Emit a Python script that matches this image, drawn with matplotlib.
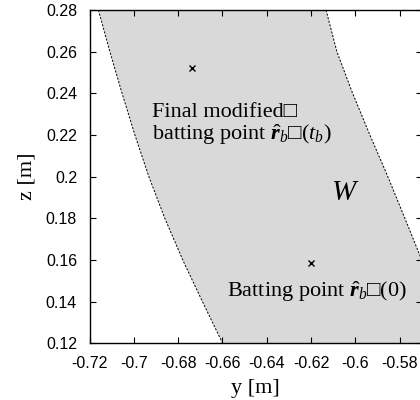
import matplotlib
matplotlib.use("Agg")
import matplotlib.pyplot as plt
import numpy as np

# boundary of the workspace W
z_levels = [0.28, 0.26, 0.24, 0.22, 0.20, 0.18, 0.16, 0.14, 0.12]
y_left = [-0.7160, -0.7108, -0.7053, -0.6995, -0.6932, -0.6860, -0.6779, -0.6690, -0.6599]
y_right = [-0.6132, -0.6083, -0.6012, -0.5934, -0.5853, -0.5776, -0.5700, -0.5620, -0.5540]

# batting points
pts_y = [-0.6739, -0.6200]
pts_z = [0.2522, 0.1584]

xticks = [-0.72, -0.7, -0.68, -0.66, -0.64, -0.62, -0.6, -0.58]
xtick_labels = ["-0.72", "-0.7", "-0.68", "-0.66", "-0.64", "-0.62", "-0.6", "-0.58"]
yticks = [0.12, 0.14, 0.16, 0.18, 0.2, 0.22, 0.24, 0.26, 0.28]
ytick_labels = ["0.12", "0.14", "0.16", "0.18", "0.2", "0.22", "0.24", "0.26", "0.28"]

plt.rcParams['mathtext.fontset'] = 'custom'
plt.rcParams['mathtext.rm'] = 'Liberation Serif'
plt.rcParams['mathtext.it'] = 'Liberation Serif:italic'
plt.rcParams['mathtext.bf'] = 'Liberation Serif:bold:italic'

serif = ['Liberation Serif', 'DejaVu Serif']
sans = ['Liberation Sans', 'DejaVu Sans']

fig = plt.figure(figsize=(4.2, 4.0), dpi=100)
ax = fig.add_axes([0.2131, 0.1417, 0.791, 0.8333])

dash = (0, (2.2, 1.6))
poly_y = np.concatenate([y_left, y_right[::-1]])
poly_z = np.concatenate([z_levels, z_levels[::-1]])
ax.fill(poly_y, poly_z, facecolor='#d9d9d9', edgecolor='none', zorder=1)
ax.plot(y_left, z_levels, color='black', lw=0.7, ls=dash, zorder=2)
ax.plot(y_right, z_levels, color='black', lw=0.7, ls=dash, zorder=2)
ax.plot([y_left[0], y_right[0]], [z_levels[0], z_levels[0]], color='black', lw=0.7, ls=dash, zorder=2)
ax.plot([y_left[-1], y_right[-1]], [z_levels[-1], z_levels[-1]], color='black', lw=0.7, ls=dash, zorder=2)

ax.plot(pts_y, pts_z, 'x', color='black', ms=5, mew=1.0, zorder=3)

ax.text(-0.6919, 0.2288, "Final modified\u25a1", family=serif, fontsize=16, zorder=4)
ax.text(-0.6919, 0.2177, r"batting point $\hat{\mathbf{r}}_b$" + "\u25a1" + r"($t_b$)",
        family=serif, fontsize=16, zorder=4)
ax.text(-0.658, 0.1424, r"Batting point $\hat{\mathbf{r}}_b$" + "\u25a1" + "(0)",
        family=serif, fontsize=16, zorder=4)
ax.text(-0.6046, 0.1888, r"$W$", fontsize=21, ha='center', zorder=4)

ax.set_xlim(-0.72, -0.57)
ax.set_ylim(0.12, 0.28)
ax.set_xticks(xticks)
ax.set_xticklabels(xtick_labels, family=sans, fontsize=11.5)
ax.set_yticks(yticks)
ax.set_yticklabels(ytick_labels, family=sans, fontsize=11.5)
ax.tick_params(axis='y', direction='in', right=True, length=4, width=0.8, pad=9)
ax.tick_params(axis='x', direction='in', top=True, length=4, width=0.8, pad=9)
for s in ax.spines.values():
    s.set_linewidth(1.0)

ax.set_xlabel("y [m]", family=serif, fontsize=16, labelpad=6)
ax.set_ylabel("z [m]", family=serif, fontsize=16, labelpad=7)

fig.savefig("out.png", dpi=100)
